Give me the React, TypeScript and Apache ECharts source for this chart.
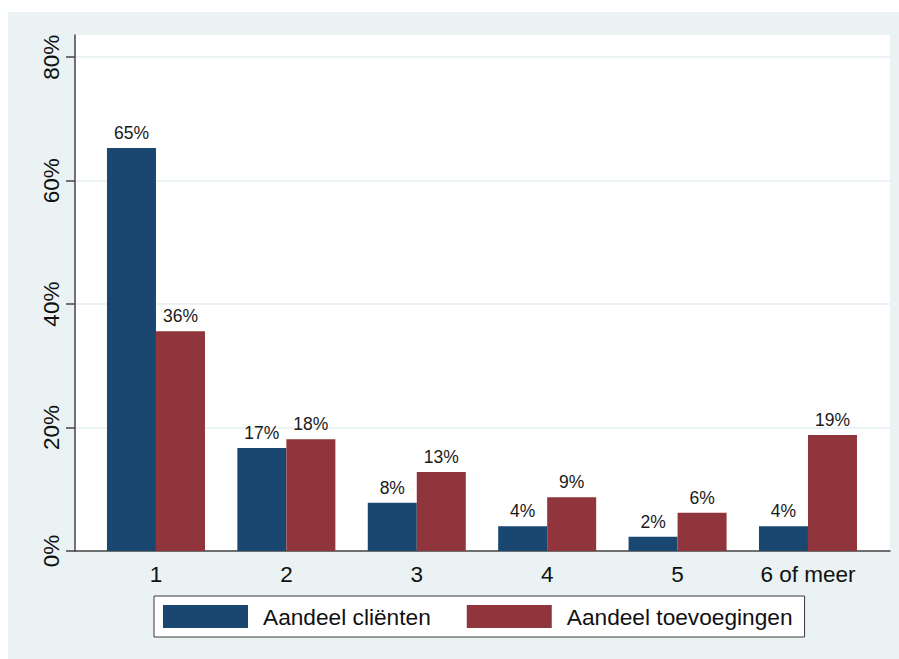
import React, { useEffect, useRef } from "react";
import * as echarts from "echarts";

const categories = ["1", "2", "3", "4", "5", "6 of meer"];
const seriesNames = ["Aandeel cliënten", "Aandeel toevoegingen"];
const clienten = [65.3, 16.7, 7.8, 4.0, 2.3, 4.0];
const toevoegingen = [35.6, 18.1, 12.8, 8.7, 6.2, 18.8];
const yTicks = [0, 20, 40, 60, 80];

const FONT = "'Liberation Sans', Arial, sans-serif";

export default function App() {
  const ref = useRef<HTMLDivElement>(null);
  useEffect(() => {
    if (!ref.current) return;
    const chart = echarts.init(ref.current, null, { renderer: "svg" });
    const xPositions = categories.map((_, i) => i + 1);
    const labelCfg = {
      show: true,
      position: "top",
      distance: 6,
      fontFamily: FONT,
      fontSize: 17.5,
      color: "#1a1a1a",
      formatter: (p: any) => Math.round(p.value[1]) + "%",
    };
    chart.setOption({
      animation: false,
      backgroundColor: "#ffffff",
      textStyle: { fontFamily: FONT },
      graphic: [
        {
          type: "rect",
          z: -100,
          silent: true,
          shape: { x: 8, y: 12, width: 891, height: 647 },
          style: { fill: "#eaf2f3" },
        },
      ],
      grid: {
        left: 75,
        top: 35,
        right: 9,
        bottom: 108,
        show: true,
        backgroundColor: "#ffffff",
        borderWidth: 0,
        containLabel: false,
      },
      legend: {
        left: 154,
        top: 596,
        orient: "horizontal",
        padding: [9, 12, 9, 9],
        itemWidth: 85,
        itemHeight: 23,
        itemGap: 36,
        icon: "rect",
        backgroundColor: "#ffffff",
        borderColor: "#3a3a3a",
        borderWidth: 1,
        borderRadius: 0,
        textStyle: {
          fontFamily: FONT,
          fontSize: 22.7,
          color: "#111111",
          padding: [0, 0, 0, 10],
        },
        data: seriesNames,
      },
      xAxis: {
        type: "value",
        min: 0.379,
        max: 6.629,
        axisLine: { show: true, lineStyle: { color: "#444444", width: 1.5 } },
        axisTick: { show: false },
        splitLine: { show: false },
        axisLabel: {
          customValues: xPositions,
          formatter: (v: number) => categories[Math.round(v) - 1] ?? "",
          fontFamily: FONT,
          fontSize: 22.5,
          color: "#111111",
          margin: 12,
        },
      },
      yAxis: {
        type: "value",
        min: 0,
        max: 83.6,
        interval: 20,
        axisLine: { show: true, lineStyle: { color: "#444444", width: 1.5 } },
        axisTick: {
          show: true,
          length: 9,
          customValues: yTicks,
          lineStyle: { color: "#444444", width: 1.5 },
        },
        splitLine: { show: true, lineStyle: { color: "#e6eff1", width: 1.5 } },
        axisLabel: {
          customValues: yTicks,
          rotate: 90,
          formatter: (v: number) => v + "%",
          fontFamily: FONT,
          fontSize: 22.5,
          color: "#111111",
          margin: 12,
        },
      },
      series: [
        {
          name: seriesNames[0],
          type: "bar",
          barWidth: 49,
          barGap: "0%",
          itemStyle: { color: "#1a476f" },
          label: labelCfg,
          data: clienten.map((v, i) => [xPositions[i], v]),
        },
        {
          name: seriesNames[1],
          type: "bar",
          barWidth: 49,
          barGap: "0%",
          itemStyle: { color: "#90353b" },
          label: labelCfg,
          data: toevoegingen.map((v, i) => [xPositions[i], v]),
        },
      ],
    });
    return () => chart.dispose();
  }, []);
  return (
    <div
      ref={ref}
      style={{ position: "fixed", left: 0, top: 0, width: 899, height: 659 }}
    />
  );
}
